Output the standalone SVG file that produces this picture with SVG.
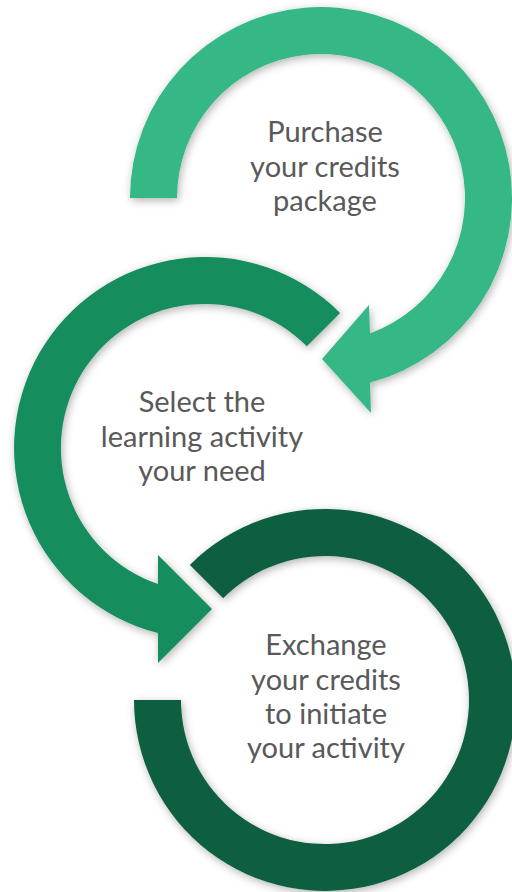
<svg xmlns="http://www.w3.org/2000/svg" width="512" height="892" viewBox="0 0 512 892">
  <defs>
    <filter id="shadow" x="-20%" y="-20%" width="140%" height="140%">
      <feDropShadow dx="1.5" dy="2.5" stdDeviation="4" flood-color="#000" flood-opacity="0.3"/>
    </filter>
  </defs>
  <style>
    .ring { filter: url(#shadow); }
    .light { fill: #36B885; }
    .mid { fill: #138D5C; }
    .dark { fill: #0F5E40; }
    .label { font-family: Lato, "Liberation Sans", sans-serif; font-size: 29px; fill: #595959; text-anchor: middle; }
  </style>
  <rect width="512" height="892" fill="#FFFFFF"/>

  <g id="step3">
    <path class="ring dark" d="M189.9,564.9 A191,191 0 1 1 134,700 L181,700 A144,144 0 1 0 223.2,598.2 Z"/>
    <text class="label" x="326" y="655">Exchange</text>
    <text class="label" x="326" y="690">your credits</text>
    <text class="label" x="326" y="724">to initiate</text>
    <text class="label" x="326" y="758">your activity</text>
  </g>

  <g id="step2">
    <path class="ring mid" d="M340.1,312.9 A191,191 0 1 0 158,633.1 L158,663 L212,609 L158,555 L158,584.1 A144,144 0 1 1 306.8,346.2 Z"/>
    <text class="label" x="202" y="412">Select the</text>
    <text class="label" x="202" y="447">learning activity</text>
    <text class="label" x="202" y="481">your need</text>
  </g>

  <g id="step1">
    <path class="ring light" d="M130,198 A191,191 0 1 1 370,382.6 L371,413 L322,359 L369,305 L370,333.4 A144,144 0 1 0 177,198 Z"/>
    <text class="label" x="325" y="142">Purchase</text>
    <text class="label" x="325" y="177">your credits</text>
    <text class="label" x="325" y="211">package</text>
  </g>

  <g id="connectors"/>
</svg>
